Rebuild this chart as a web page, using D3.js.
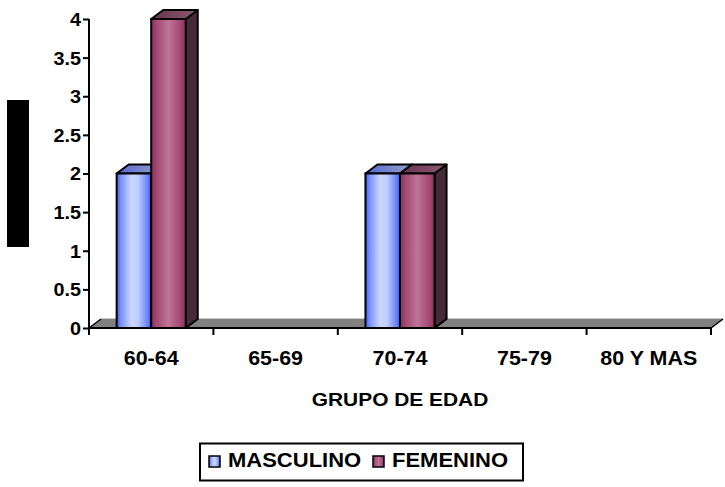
<!DOCTYPE html>
<html>
<head>
<meta charset="utf-8">
<script src="https://cdn.jsdelivr.net/npm/d3@7"></script>
<style>
  html, body { margin: 0; padding: 0; background: #fff; }
  svg { display: block; font-family: "Liberation Sans", Arial, sans-serif; font-weight: bold; }
</style>
</head>
<body>
<svg id="chart" width="725" height="487"></svg>
<script>
// Age groups and counts per sex
const categories = ["60-64", "65-69", "70-74", "75-79", "80 Y MAS"];
const masculino = [2, 0, 2, 0, 0];
const femenino  = [4, 0, 2, 0, 0];
const seriesNames = ["MASCULINO", "FEMENINO"];
const yTicks = [0, 0.5, 1, 1.5, 2, 2.5, 3, 3.5, 4];
const xTitle = "GRUPO DE EDAD";

const svg = d3.select("#chart");
const FONT = "Liberation Sans, Arial, sans-serif";
const STRETCH = 1.1; // slightly wide lettering
const margin = { left: 89, top: 19 };
const plotRight = 711, plotBottom = 328;
const depth = { dx: 12, dy: -9 };

const x = d3.scaleBand().domain(categories).range([margin.left, plotRight]).paddingInner(0).paddingOuter(0);
const inner = d3.scaleBand().domain(seriesNames).range([0, x.bandwidth()]).paddingOuter(0.8).paddingInner(0);
const y = d3.scaleLinear().domain([0, 4]).range([plotBottom, margin.top]);

// Gradients for the cylinder-like shading of the bar faces
const defs = svg.append("defs");
function hGrad(id, stops) {
  const g = defs.append("linearGradient").attr("id", id).attr("x1", "0%").attr("x2", "100%").attr("y1", "0%").attr("y2", "0%");
  stops.forEach(([o, c]) => g.append("stop").attr("offset", o).attr("stop-color", c));
}
hGrad("gBlue", [["0%", "#3f5cf6"], ["12%", "#7891fb"], ["42%", "#cbd6ff"], ["62%", "#c0ceff"], ["88%", "#6f88fa"], ["100%", "#3a58f4"]]);
hGrad("gMag", [["0%", "#8a2f5c"], ["15%", "#a34872"], ["50%", "#be7597"], ["85%", "#a34872"], ["100%", "#8a2f5c"]]);
hGrad("gBlueTop", [["0%", "#5468d4"], ["100%", "#96a2c6"]]);
hGrad("gMagTop", [["0%", "#6a3250"], ["100%", "#8a5a72"]]);

const palette = {
  MASCULINO: { front: "url(#gBlue)", top: "url(#gBlueTop)", side: "#2f3e8a" },
  FEMENINO:  { front: "url(#gMag)",  top: "url(#gMagTop)",  side: "#48293a" }
};

// Floor of the 3D plot area
const floor = svg.append("g");
floor.append("path")
  .attr("d", `M${margin.left},${plotBottom} L${margin.left + depth.dx},${plotBottom + depth.dy} L${plotRight + depth.dx},${plotBottom + depth.dy} L${plotRight},${plotBottom} Z`)
  .attr("fill", "#808080").attr("stroke", "none");
floor.append("line")
  .attr("x1", margin.left + depth.dx).attr("x2", plotRight + depth.dx)
  .attr("y1", plotBottom + depth.dy - 0.5).attr("y2", plotBottom + depth.dy - 0.5)
  .attr("stroke", "#c8c8c8").attr("stroke-width", 1);
floor.append("path")
  .attr("d", `M${margin.left},${plotBottom} L${margin.left + depth.dx},${plotBottom + depth.dy} M${plotRight},${plotBottom} L${plotRight + depth.dx},${plotBottom + depth.dy}`)
  .attr("stroke", "#000").attr("stroke-width", 1.5).attr("fill", "none");

// Bars
const rows = [];
categories.forEach((c, i) => {
  rows.push({ cat: c, series: "MASCULINO", value: masculino[i] });
  rows.push({ cat: c, series: "FEMENINO", value: femenino[i] });
});
const bars = svg.append("g").selectAll("g.bar")
  .data(rows.filter(d => d.value > 0))
  .join("g").attr("class", "bar");

bars.each(function(d) {
  const g = d3.select(this);
  const x0 = x(d.cat) + inner(d.series);
  const w = inner.bandwidth();
  const y0 = y(d.value), yb = y(0);
  const p = palette[d.series];
  g.append("path") // side face
    .attr("d", `M${x0 + w},${yb} L${x0 + w + depth.dx},${yb + depth.dy} L${x0 + w + depth.dx},${y0 + depth.dy} L${x0 + w},${y0} Z`)
    .attr("fill", p.side).attr("stroke", "#000").attr("stroke-width", 2).attr("stroke-linejoin", "round");
  g.append("path") // top face
    .attr("d", `M${x0},${y0} L${x0 + depth.dx},${y0 + depth.dy} L${x0 + w + depth.dx},${y0 + depth.dy} L${x0 + w},${y0} Z`)
    .attr("fill", p.top).attr("stroke", "#000").attr("stroke-width", 2).attr("stroke-linejoin", "round");
  g.append("rect") // front face
    .attr("x", x0).attr("y", y0).attr("width", w).attr("height", yb - y0)
    .attr("fill", p.front).attr("stroke", "#000").attr("stroke-width", 2);
});

// Y axis
const yAxis = svg.append("g").attr("transform", `translate(${margin.left},0)`)
  .call(d3.axisLeft(y).tickValues(yTicks).tickSize(6).tickPadding(0).tickFormat(d3.format("")));
yAxis.select(".domain").attr("stroke", "#000").attr("stroke-width", 2).attr("d", `M0,${margin.top}V${plotBottom}`);
yAxis.selectAll(".tick line").attr("stroke", "#000").attr("stroke-width", 2);
yAxis.selectAll(".tick text")
  .attr("x", 0).attr("dy", "0.36em")
  .attr("transform", `translate(-8,0) scale(${STRETCH},1)`)
  .attr("font-size", 18).attr("font-weight", "bold").attr("fill", "#000").attr("font-family", FONT);

// X axis
const xAxis = svg.append("g").attr("transform", `translate(0,${plotBottom})`)
  .call(d3.axisBottom(x).tickSize(0).tickPadding(0));
xAxis.select(".domain").attr("stroke", "#000").attr("stroke-width", 2).attr("d", `M${margin.left},0H${plotRight}`);
xAxis.selectAll(".tick text")
  .attr("y", 0).attr("dy", 0)
  .attr("transform", `translate(0,37) scale(${STRETCH},1)`)
  .attr("font-size", 19.5).attr("font-weight", "bold").attr("fill", "#000").attr("font-family", FONT);
// category boundary ticks
const bounds = categories.map(c => x(c)).concat([plotRight]);
xAxis.selectAll("line.bound").data(bounds).join("line").attr("class", "bound")
  .attr("x1", d => d).attr("x2", d => d).attr("y1", 0).attr("y2", 7)
  .attr("stroke", "#000").attr("stroke-width", 2);

function wideText(parent, tx, ty, size, str, anchor) {
  return parent.append("text")
    .attr("transform", `translate(${tx},${ty}) scale(${STRETCH},1)`)
    .attr("text-anchor", anchor || "start").attr("font-size", size).attr("fill", "#000").text(str);
}

// Axis titles (vertical title is shown as a solid black block)
wideText(svg, (margin.left + plotRight) / 2, 406, 19, xTitle, "middle");
svg.append("rect").attr("x", 7).attr("y", 100).attr("width", 22).attr("height", 147).attr("fill", "#000");

// Legend
const legend = svg.append("g");
legend.append("rect").attr("x", 200).attr("y", 443.5).attr("width", 323).attr("height", 37)
  .attr("fill", "#fff").attr("stroke", "#000").attr("stroke-width", 2);
const legX = [209, 373];
seriesNames.forEach((s, i) => {
  legend.append("rect").attr("x", legX[i]).attr("y", 456).attr("width", 11).attr("height", 11)
    .attr("fill", palette[s].front).attr("stroke", "#000").attr("stroke-width", 1.5);
  wideText(legend, legX[i] + 19, 467, 20, s);
});
</script>
</body>
</html>
